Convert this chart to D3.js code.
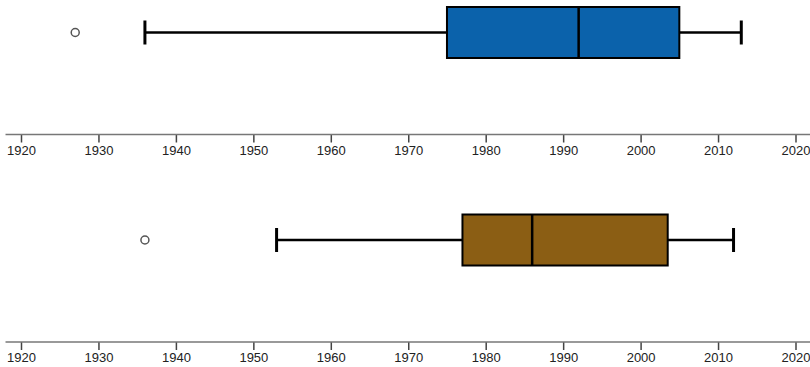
<!DOCTYPE html>
<html>
<head>
<meta charset="utf-8">
<script src="https://cdn.jsdelivr.net/npm/d3@7/dist/d3.min.js"></script>
<style>
  html, body { margin: 0; padding: 0; background: #fff; }
  svg { display: block; }
  .tick text { font-family: "Liberation Sans", Arial, sans-serif; font-size: 13px; fill: #222; }
</style>
</head>
<body>
<svg id="chart" width="810" height="367"></svg>
<script>
// Data
const groups = ["A", "B"];
const colors = ["#0b62ab", "#8b5e14"];
const whiskerLow = [1936, 1953];
const q1 = [1975, 1977];
const median = [1992, 1986];
const q3 = [2005, 2003.5];
const whiskerHigh = [2013, 2012];
const outliers = [[1927], [1936]];
const tickValues = [1920, 1930, 1940, 1950, 1960, 1970, 1980, 1990, 2000, 2010, 2020];
const axisExtent = [1918, 2022];

const svg = d3.select("#chart");
const x = d3.scaleLinear().domain([1920, 2020]).range([21, 795.5]);
const panel = d3.scaleBand().domain(groups).range([0, 414]);

const boxCenter = 32.5, boxHalf = 25.5, capHalf = 12, axisY = 134.5;

groups.forEach((g, i) => {
  const gp = svg.append("g").attr("transform", `translate(0,${panel(g) + (i ? 0.5 : 0)})`);

  // axis
  const ax = gp.append("g").attr("transform", `translate(0,${axisY})`)
    .call(d3.axisBottom(x).tickValues(tickValues).tickFormat(d3.format("d")).tickSize(8).tickSizeOuter(0).tickPadding(3));
  ax.select(".domain").remove();
  ax.selectAll(".tick line").attr("stroke", "#444").attr("stroke-width", 1.5);
  gp.append("line")
    .attr("x1", x(axisExtent[0])).attr("x2", x(axisExtent[1]))
    .attr("y1", axisY).attr("y2", axisY)
    .attr("stroke", "#777").attr("stroke-width", 1.5);

  // whiskers
  gp.append("line")
    .attr("x1", x(whiskerLow[i])).attr("x2", x(q1[i]))
    .attr("y1", boxCenter).attr("y2", boxCenter)
    .attr("stroke", "#000").attr("stroke-width", 2.5);
  gp.append("line")
    .attr("x1", x(q3[i])).attr("x2", x(whiskerHigh[i]))
    .attr("y1", boxCenter).attr("y2", boxCenter)
    .attr("stroke", "#000").attr("stroke-width", 2.5);
  [whiskerLow[i], whiskerHigh[i]].forEach(v => {
    gp.append("line")
      .attr("x1", x(v)).attr("x2", x(v))
      .attr("y1", boxCenter - capHalf).attr("y2", boxCenter + capHalf)
      .attr("stroke", "#000").attr("stroke-width", 3);
  });

  // box
  gp.append("rect")
    .attr("x", x(q1[i])).attr("width", x(q3[i]) - x(q1[i]))
    .attr("y", boxCenter - boxHalf).attr("height", boxHalf * 2)
    .attr("fill", colors[i]).attr("stroke", "#000").attr("stroke-width", 2);
  gp.append("line")
    .attr("x1", x(median[i])).attr("x2", x(median[i]))
    .attr("y1", boxCenter - boxHalf).attr("y2", boxCenter + boxHalf)
    .attr("stroke", "#000").attr("stroke-width", 2.5);

  // outliers
  gp.selectAll("circle.out").data(outliers[i]).enter().append("circle")
    .attr("class", "out")
    .attr("cx", d => x(d)).attr("cy", boxCenter).attr("r", 4)
    .attr("fill", "none").attr("stroke", "#555").attr("stroke-width", 1.5);
});
</script>
</body>
</html>
